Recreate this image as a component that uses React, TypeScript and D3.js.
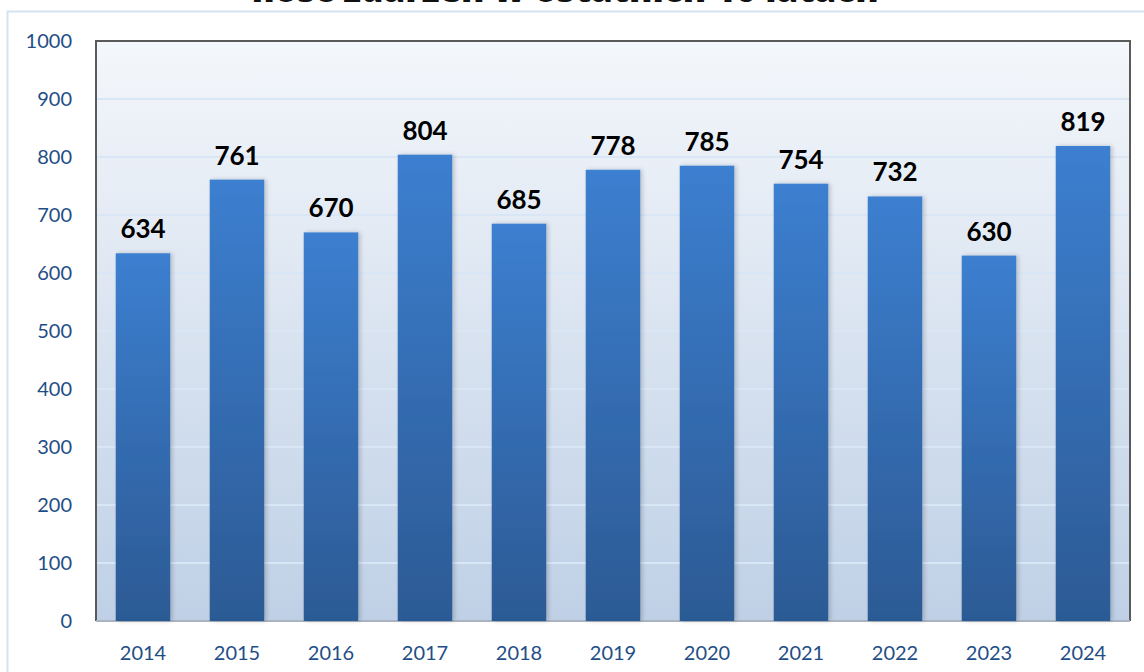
import React, { useEffect, useRef } from "react";
import * as d3 from "d3";

const years = ["2014", "2015", "2016", "2017", "2018", "2019", "2020", "2021", "2022", "2023", "2024"];
const counts = [634, 761, 670, 804, 685, 778, 785, 754, 732, 630, 819];
const yTicks = [0, 100, 200, 300, 400, 500, 600, 700, 800, 900, 1000];
const title = "Ilość zdarzeń w ostatnich 10 latach";

const W = 1144;
const H = 672;
const margin = { top: 41, right: 14, bottom: 51, left: 96 };

function App() {
  const ref = useRef<SVGSVGElement>(null);

  useEffect(() => {
    const svg = d3.select(ref.current);
    svg.selectAll("*").remove();

    const innerW = W - margin.left - margin.right;
    const innerH = H - margin.top - margin.bottom;

    const defs = svg.append("defs");
    const bg = defs.append("linearGradient").attr("id", "bg").attr("x1", 0).attr("y1", 0).attr("x2", 0).attr("y2", 1);
    bg.append("stop").attr("offset", "0%").attr("stop-color", "#f4f7fb");
    bg.append("stop").attr("offset", "100%").attr("stop-color", "#bfd0e6");

    const bar = defs.append("linearGradient").attr("id", "bar").attr("x1", 0).attr("y1", 0).attr("x2", 0).attr("y2", 1);
    bar.append("stop").attr("offset", "0%").attr("stop-color", "#3c7fd0");
    bar.append("stop").attr("offset", "100%").attr("stop-color", "#2c5a94");

    const shadow = defs.append("filter").attr("id", "shadow").attr("x", "-20%").attr("width", "140%");
    shadow.append("feDropShadow").attr("dx", 2).attr("dy", 0).attr("stdDeviation", 2)
      .attr("flood-color", "#000").attr("flood-opacity", 0.2);

    // outer chart border
    svg.append("path")
      .attr("d", `M7.5,${H} V11.5 H${W}`)
      .attr("fill", "none")
      .attr("stroke", "#d6e2f0")
      .attr("stroke-width", 2);

    // title sits partly above the top edge, as in the original crop
    svg.append("text")
      .attr("x", 565)
      .attr("y", 2)
      .attr("text-anchor", "middle")
      .style("font-family", "'Open Sans', sans-serif")
      .style("font-weight", 800)
      .style("font-size", "35px")
      .style("fill", "#111")
      .text(title);

    const g = svg.append("g").attr("transform", `translate(${margin.left},${margin.top})`);

    const x = d3.scaleBand().domain(years).range([0, innerW]).paddingInner(0.42).paddingOuter(0.21);
    const y = d3.scaleLinear().domain([0, 1000]).range([innerH, 0]);

    g.append("rect").attr("width", innerW).attr("height", innerH).attr("fill", "url(#bg)");

    g.selectAll("line.grid")
      .data(yTicks.slice(1, -1))
      .enter()
      .append("line")
      .attr("class", "grid")
      .attr("x1", 0)
      .attr("x2", innerW)
      .attr("y1", (d) => y(d))
      .attr("y2", (d) => y(d))
      .attr("stroke", "#d8e6f6")
      .attr("stroke-width", 2);

    // frame
    g.append("path")
      .attr("d", `M0,${innerH} V0 H${innerW} V${innerH}`)
      .attr("fill", "none")
      .attr("stroke", "#5a5a5a")
      .attr("stroke-width", 2);
    g.append("line")
      .attr("x1", 0).attr("x2", innerW)
      .attr("y1", innerH).attr("y2", innerH)
      .attr("stroke", "#aab4c0")
      .attr("stroke-width", 2);

    g.selectAll("rect.bar")
      .data(counts)
      .enter()
      .append("rect")
      .attr("class", "bar")
      .attr("x", (_, i) => x(years[i]) as number)
      .attr("y", (d) => y(d))
      .attr("width", x.bandwidth())
      .attr("height", (d) => innerH - y(d))
      .attr("fill", "url(#bar)")
      .attr("filter", "url(#shadow)");

    g.selectAll("text.val")
      .data(counts)
      .enter()
      .append("text")
      .attr("class", "val")
      .attr("x", (_, i) => (x(years[i]) as number) + x.bandwidth() / 2)
      .attr("y", (d) => y(d) - 15)
      .attr("text-anchor", "middle")
      .style("font-family", "Lato, sans-serif")
      .style("font-weight", 700)
      .style("font-size", "26px")
      .style("fill", "#000")
      .text((d) => d);

    g.selectAll("text.ytick")
      .data(yTicks)
      .enter()
      .append("text")
      .attr("class", "ytick")
      .attr("x", -24)
      .attr("y", (d) => y(d))
      .attr("dy", "0.35em")
      .attr("text-anchor", "end")
      .style("font-family", "Lato, sans-serif")
      .style("font-size", "20px")
      .style("fill", "#1f4e86")
      .text((d) => d);

    g.selectAll("text.xtick")
      .data(years)
      .enter()
      .append("text")
      .attr("class", "xtick")
      .attr("x", (d) => (x(d) as number) + x.bandwidth() / 2)
      .attr("y", innerH + 39)
      .attr("text-anchor", "middle")
      .style("font-family", "Lato, sans-serif")
      .style("font-size", "20px")
      .style("fill", "#1f4e86")
      .text((d) => d);
  }, []);

  return (
    <svg ref={ref} width={W} height={H} style={{ position: "absolute", left: 0, top: 0, background: "#fff" }} />
  );
}

export default App;
